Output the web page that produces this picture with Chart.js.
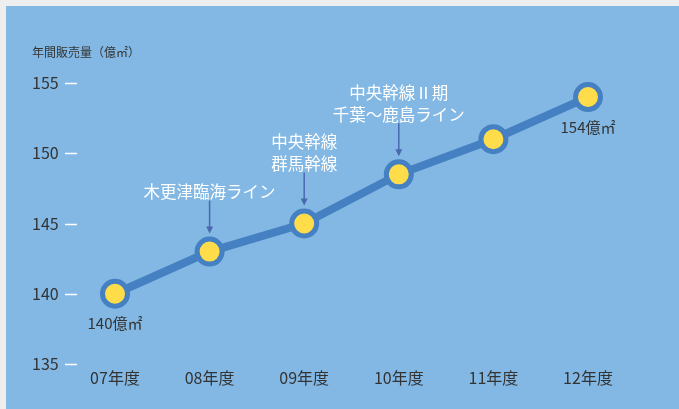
<!DOCTYPE html>
<html lang="ja">
<head>
<meta charset="utf-8">
<title>年間販売量</title>
<script src="https://cdn.jsdelivr.net/npm/chart.js@4"></script>
<style>
  html, body { margin: 0; padding: 0; background: #eeeeee; overflow: hidden; }
  #frame { position: absolute; left: 6px; top: 6px; width: 673px; height: 403px; background: #82b8e3; }
  canvas { display: block; }
</style>
</head>
<body>
<div id="frame"><canvas id="chart" width="673" height="403"></canvas></div>
<script>
// 年度別の販売量（億㎡）
const fiscalYears = ['07年度', '08年度', '09年度', '10年度', '11年度', '12年度'];
const salesVolume = [140, 143, 145, 148.5, 151, 154];
const yTicks = [135, 140, 145, 150, 155];
const axisTitle = '年間販売量（億㎡）';

// 新規ライン開通の注記（対象年度のインデックスと文言）
const noteIndex = [1, 2, 3];
const noteLines = [
  ['木更津臨海ライン'],
  ['中央幹線', '群馬幹線'],
  ['中央幹線Ⅱ期', '千葉～鹿島ライン']
];
// 値ラベルを付ける年度
const valueLabelIndex = [0, 5];

const FONT = '"Noto Sans CJK JP", "Noto Sans", sans-serif';
const LINE_BLUE = '#4580c2';
const ARROW_BLUE = '#4a68b0';
const TEXT_DARK = '#333333';

const decorations = {
  id: 'decorations',
  afterDraw(chart) {
    const ctx = chart.ctx;
    const y = chart.scales.y;
    const meta = chart.getDatasetMeta(0);
    ctx.save();

    // 縦軸の目盛り（白い短線）
    ctx.strokeStyle = '#ffffff';
    ctx.lineWidth = 1.5;
    yTicks.forEach(v => {
      const py = Math.round(y.getPixelForValue(v)) + 0.5;
      ctx.beginPath();
      ctx.moveTo(y.right - 50, py);
      ctx.lineTo(y.right - 38, py);
      ctx.stroke();
    });

    // 軸タイトル
    ctx.fillStyle = TEXT_DARK;
    ctx.font = '12px ' + FONT;
    ctx.textAlign = 'left';
    ctx.textBaseline = 'middle';
    ctx.fillText(axisTitle, y.left, chart.chartArea.top - 31);

    // 値ラベル
    ctx.font = '15px ' + FONT;
    ctx.textAlign = 'center';
    valueLabelIndex.forEach(i => {
      const pt = meta.data[i];
      ctx.fillText(salesVolume[i] + '億㎡', pt.x, pt.y + 30);
    });

    // 注記と矢印
    noteIndex.forEach((i, k) => {
      const pt = meta.data[i];
      const lines = noteLines[k];
      ctx.fillStyle = '#ffffff';
      ctx.font = '16.5px ' + FONT;
      ctx.textAlign = 'center';
      ctx.textBaseline = 'middle';
      lines.forEach((t, j) => {
        const ly = pt.y - 60 - (lines.length - 1 - j) * 22;
        ctx.fillText(t, pt.x, ly);
      });
      const top = pt.y - 51;
      const tip = pt.y - 18;
      ctx.strokeStyle = ARROW_BLUE;
      ctx.fillStyle = ARROW_BLUE;
      ctx.lineWidth = 1.5;
      ctx.beginPath();
      ctx.moveTo(pt.x, top);
      ctx.lineTo(pt.x, tip - 5);
      ctx.stroke();
      ctx.beginPath();
      ctx.moveTo(pt.x - 3.5, tip - 7);
      ctx.lineTo(pt.x + 3.5, tip - 7);
      ctx.lineTo(pt.x, tip);
      ctx.closePath();
      ctx.fill();
    });

    ctx.restore();
  }
};

new Chart(document.getElementById('chart'), {
  type: 'line',
  data: {
    labels: fiscalYears,
    datasets: [{
      data: salesVolume,
      borderColor: LINE_BLUE,
      borderWidth: 8,
      pointRadius: 12.5,
      pointHoverRadius: 12.5,
      pointBorderWidth: 5,
      pointBackgroundColor: '#ffdc4a',
      pointBorderColor: LINE_BLUE,
      tension: 0,
      clip: false
    }]
  },
  options: {
    responsive: false,
    animation: false,
    events: [],
    layout: { padding: { top: 77, right: 91, left: 26, bottom: 0 } },
    plugins: { legend: { display: false }, tooltip: { enabled: false } },
    scales: {
      x: {
        offset: false,
        grid: { display: false, drawTicks: false },
        border: { display: false },
        ticks: { color: TEXT_DARK, font: { family: FONT, size: 16 }, padding: 4, maxRotation: 0 },
        afterFit(scale) { scale.height = 45; }
      },
      y: {
        min: 135,
        max: 155,
        grid: { display: false, drawTicks: false },
        border: { display: false },
        afterBuildTicks(scale) { scale.ticks = yTicks.map(v => ({ value: v })); },
        ticks: { color: TEXT_DARK, font: { family: FONT, size: 16 }, padding: 0, crossAlign: 'far' },
        afterFit(scale) { scale.width = 83; }
      }
    }
  },
  plugins: [decorations]
});
</script>
</body>
</html>
